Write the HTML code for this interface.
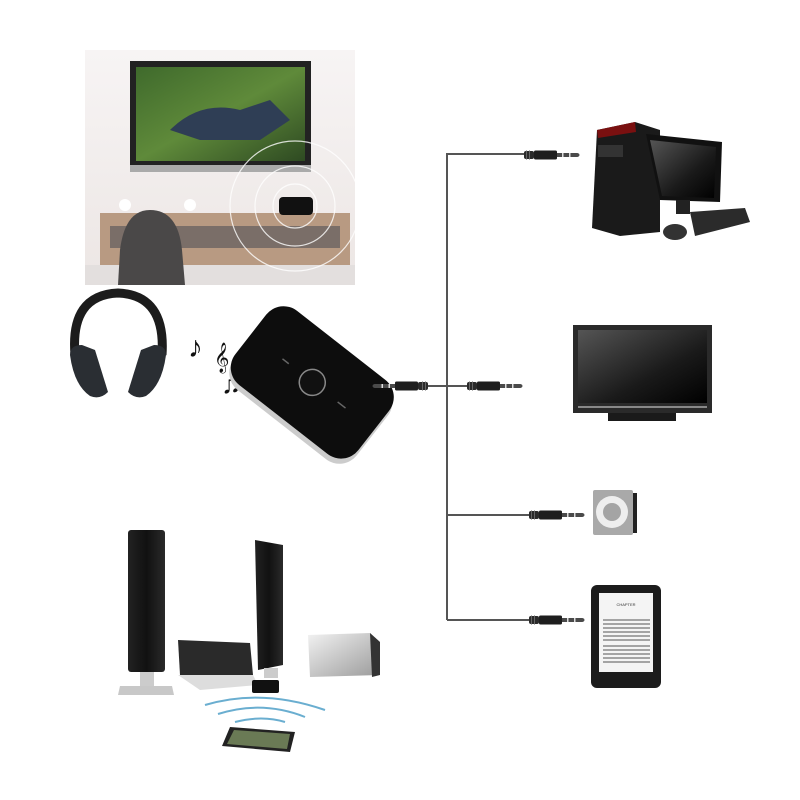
<!DOCTYPE html>
<html><head><meta charset="utf-8"><style>
html,body{margin:0;padding:0;background:#fff;width:800px;height:800px;overflow:hidden}
svg{display:block}
</style></head><body>
<svg width="800" height="800" viewBox="0 0 800 800" xmlns="http://www.w3.org/2000/svg" font-family="Liberation Sans, sans-serif">
<defs>
<linearGradient id="wall" x1="0" y1="0" x2="0" y2="1"><stop offset="0" stop-color="#f7f4f4"/><stop offset="1" stop-color="#ece6e4"/></linearGradient>
<linearGradient id="scr" x1="0" y1="0" x2="1" y2="1"><stop offset="0" stop-color="#3f6a2c"/><stop offset="0.5" stop-color="#5f8a3a"/><stop offset="1" stop-color="#2e4a22"/></linearGradient>
<linearGradient id="tv" x1="0" y1="0" x2="1" y2="1"><stop offset="0" stop-color="#555"/><stop offset="0.6" stop-color="#1a1a1a"/><stop offset="1" stop-color="#000"/></linearGradient>
<linearGradient id="spk" x1="0" y1="0" x2="1" y2="0"><stop offset="0" stop-color="#222"/><stop offset="0.5" stop-color="#111"/><stop offset="1" stop-color="#2a2a2a"/></linearGradient>
<linearGradient id="sil" x1="0" y1="0" x2="1" y2="1"><stop offset="0" stop-color="#f2f2f2"/><stop offset="1" stop-color="#9a9a9a"/></linearGradient>
<g id="jack">
<rect x="0" y="-4" width="10" height="8" rx="2" fill="#2a2a2a"/>
<rect x="2" y="-4.5" width="1" height="9" fill="#666"/>
<rect x="5" y="-4.5" width="1" height="9" fill="#666"/>
<rect x="10" y="-4.5" width="23" height="9" rx="1.5" fill="#1e1e1e"/>
<rect x="33" y="-2" width="20" height="4" fill="#4a4a4a"/>
<rect x="38" y="-2" width="1.5" height="4" fill="#ddd"/>
<rect x="45" y="-2" width="1.5" height="4" fill="#ddd"/>
<ellipse cx="53" cy="0" rx="2.5" ry="2" fill="#4a4a4a"/>
</g>
</defs>

<!-- Top-left room scene -->
<rect x="85" y="50" width="270" height="235" fill="url(#wall)"/>
<rect x="130" y="61" width="181" height="111" fill="#222"/>
<rect x="136" y="67" width="169" height="94" fill="url(#scr)"/>
<path d="M170 130 Q200 100 240 110 L270 100 L290 120 L260 140 L200 140 Z" fill="#2f3e55"/>
<rect x="130" y="165" width="181" height="7" fill="#aaa"/>
<rect x="100" y="213" width="250" height="55" fill="#b89a82"/>
<rect x="110" y="226" width="230" height="22" fill="#7a6e68"/>
<rect x="85" y="265" width="270" height="20" fill="#e3dfde"/>
<rect x="279" y="197" width="34" height="18" rx="4" fill="#111"/>
<circle cx="125" cy="205" r="6" fill="#fff"/><circle cx="190" cy="205" r="6" fill="#fff"/>
<path d="M118 285 L120 250 Q125 210 150 210 Q178 210 182 250 L185 285 Z" fill="#4a4848"/>
<g fill="none" stroke="#fff" stroke-width="1.2" opacity="0.8">
<circle cx="295" cy="206" r="22"/><circle cx="295" cy="206" r="40"/><circle cx="295" cy="206" r="65"/>
</g>

<!-- Headphones -->
<path d="M75 355 Q70 295 118 293 Q166 295 162 355" fill="none" stroke="#1c1c1c" stroke-width="9"/>
<path d="M70 355 Q70 345 82 345 L95 350 L108 392 Q100 400 90 396 Q74 385 70 355Z" fill="#2a2e33"/>
<path d="M166 355 Q166 345 154 345 L141 350 L128 392 Q136 400 146 396 Q162 385 166 355Z" fill="#2a2e33"/>

<!-- music notes -->
<text x="188" y="357" font-size="30" fill="#111">♪</text>
<text x="214" y="366" font-size="26" fill="#111">𝄞</text>
<text x="221" y="393" font-size="28" fill="#111">♫</text>

<!-- Main device -->
<g transform="translate(312,386) rotate(38)">
<rect x="-78" y="-45" width="156" height="94" rx="22" fill="#ccc"/>
<rect x="-80" y="-50" width="156" height="94" rx="22" fill="#0d0d0d"/>
<circle cx="-2" cy="-3" r="13" fill="#111" stroke="#888" stroke-width="1.5"/>
<rect x="-40" y="-4" width="8" height="1.5" fill="#666"/>
<rect x="30" y="-4" width="10" height="1.5" fill="#666"/>
</g>

<!-- Cables -->
<g stroke="#555" stroke-width="2" fill="none">
<path d="M447 620 L447 154 L525 154"/>
<path d="M420 386 L468 386"/>
<path d="M447 515 L530 515"/>
<path d="M447 620 L530 620"/>
</g>
<use href="#jack" transform="translate(428,386) scale(-1,1)"/>
<use href="#jack" transform="translate(467,386)"/>
<use href="#jack" transform="translate(524,155)"/>
<use href="#jack" transform="translate(529,515)"/>
<use href="#jack" transform="translate(529,620)"/>

<!-- PC -->
<path d="M597 130 L635 122 L660 130 L660 232 L620 236 L592 228 Z" fill="#1a1a1a"/>
<path d="M597 130 L635 122 L636 132 L598 138Z" fill="#7a1010"/>
<rect x="598" y="145" width="25" height="12" fill="#333"/>
<path d="M646 134 L722 142 L720 202 L660 200 Z" fill="#111"/>
<path d="M650 140 L716 147 L714 198 L662 196Z" fill="url(#tv)"/>
<rect x="676" y="200" width="14" height="14" fill="#222"/>
<path d="M690 212 L745 208 L750 222 L695 236 Z" fill="#2b2b2b"/>
<ellipse cx="675" cy="232" rx="12" ry="8" fill="#333"/>

<!-- TV -->
<rect x="573" y="325" width="139" height="88" fill="#2a2a2a"/>
<rect x="578" y="330" width="129" height="73" fill="url(#tv)"/>
<rect x="578" y="406" width="129" height="2" fill="#888"/>
<rect x="608" y="413" width="68" height="8" fill="#1a1a1a"/>

<!-- iPod -->
<rect x="593" y="490" width="40" height="45" rx="2" fill="#a9a9a9"/>
<rect x="633" y="493" width="4" height="40" fill="#222"/>
<circle cx="612" cy="512" r="16" fill="#eee"/>
<circle cx="612" cy="512" r="9" fill="#a4a4a4"/>

<!-- Kindle -->
<rect x="591" y="585" width="70" height="103" rx="6" fill="#1c1c1c"/>
<rect x="599" y="593" width="54" height="79" fill="#f4f4f4"/>
<text x="626" y="606" font-size="4" text-anchor="middle" fill="#333">CHAPTER</text>
<g stroke="#555" stroke-width="1">
<line x1="603" y1="620" x2="650" y2="620"/><line x1="603" y1="624" x2="650" y2="624"/><line x1="603" y1="628" x2="650" y2="628"/>
<line x1="603" y1="632" x2="650" y2="632"/><line x1="603" y1="636" x2="650" y2="636"/><line x1="603" y1="640" x2="650" y2="640"/>
<line x1="603" y1="646" x2="650" y2="646"/><line x1="603" y1="650" x2="650" y2="650"/><line x1="603" y1="654" x2="650" y2="654"/>
<line x1="603" y1="658" x2="650" y2="658"/><line x1="603" y1="662" x2="650" y2="662"/>
</g>

<!-- Speakers system -->
<rect x="128" y="530" width="37" height="142" rx="3" fill="url(#spk)"/>
<rect x="140" y="672" width="14" height="14" fill="#ccc"/>
<path d="M120 686 L172 686 L174 695 L118 695Z" fill="#c8c8c8"/>
<path d="M255 540 L283 545 L283 665 L258 670Z" fill="url(#spk)"/>
<rect x="264" y="668" width="14" height="10" fill="#ccc"/>
<path d="M178 640 L250 643 L253 675 L180 675Z" fill="#2a2a2a"/>
<path d="M178 675 L253 675 L258 685 L200 690Z" fill="#ddd"/>
<rect x="252" y="680" width="27" height="13" rx="2" fill="#111"/>
<path d="M308 635 L370 633 L380 642 L380 675 L310 677Z" fill="url(#sil)"/>
<path d="M370 633 L380 642 L380 675 L372 677Z" fill="#333"/>
<g fill="none" stroke="#6aaed0" stroke-width="2">
<path d="M205 705 Q262 688 325 710"/>
<path d="M218 714 Q262 700 305 717"/>
<path d="M235 722 Q262 715 285 722"/>
</g>
<path d="M230 727 L295 732 L290 752 L222 746Z" fill="#222"/>
<path d="M234 730 L290 734 L287 749 L227 744Z" fill="#6a7a55"/>
</svg>
</body></html>
